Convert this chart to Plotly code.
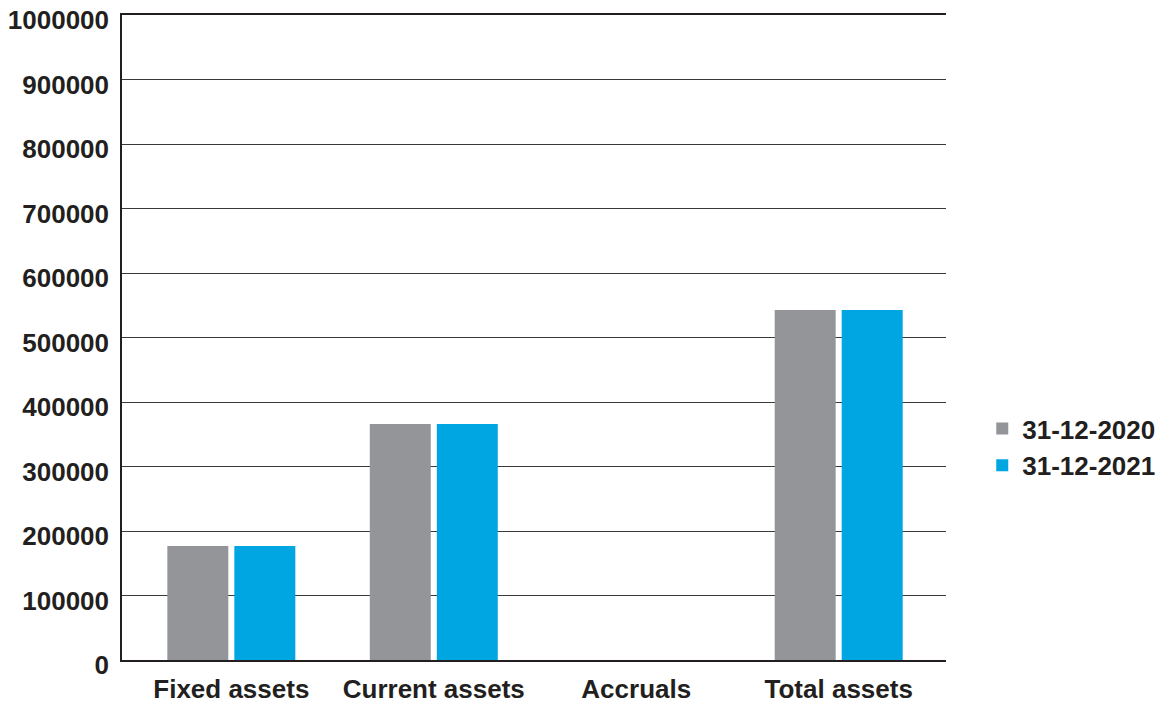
import plotly.graph_objects as go

categories = ["Fixed assets", "Current assets", "Accruals", "Total assets"]
series_names = ["31-12-2020", "31-12-2021"]
values_2020 = [176700, 365900, 0, 542600]
values_2021 = [176700, 365900, 0, 542600]
colors = ["#939598", "#00A6E2"]
y_ticks = [0, 100000, 200000, 300000, 400000, 500000, 600000, 700000, 800000, 900000, 1000000]

FONT = "Liberation Sans, Arial, sans-serif"
TXT = "#231f20"

fig = go.Figure()
for name, vals, col in zip(series_names, [values_2020, values_2021], colors):
    fig.add_trace(go.Bar(x=categories, y=vals, name=name, marker=dict(color=col, line=dict(width=0))))

# page body has an 8px default margin, so the figure is sized to fit the window
fig.update_layout(
    width=1160, height=700,
    margin=dict(l=114, r=222, t=7, b=48, autoexpand=False),
    paper_bgcolor="white", plot_bgcolor="white",
    barmode="group", bargap=0.338, bargroupgap=0.09,
    font=dict(family=FONT, size=26, color=TXT, weight="bold"),
    showlegend=True,
    legend=dict(x=1.044, y=0.33, xanchor="left", yanchor="middle",
                font=dict(family=FONT, size=26, color=TXT, weight="bold"),
                itemsizing="constant"),
    xaxis=dict(range=[-0.54, 3.53], showgrid=False, showline=True, mirror=True,
               linecolor=TXT, linewidth=1.5,
               ticks="", tickfont=dict(size=26), ticklabelstandoff=5, automargin=False),
    yaxis=dict(range=[0, 1000000], tickvals=y_ticks, ticktext=[str(v) for v in y_ticks],
               showgrid=True, gridcolor="#3a3a3a", gridwidth=1.2, zeroline=False,
               showline=True, linecolor=TXT, linewidth=1.5, ticks="",
               tickfont=dict(size=26),
               ticklabelstandoff=6, ticklabelshift=5, ticklabeloverflow="allow",
               automargin=False),
)

fig.write_html("out.html")
